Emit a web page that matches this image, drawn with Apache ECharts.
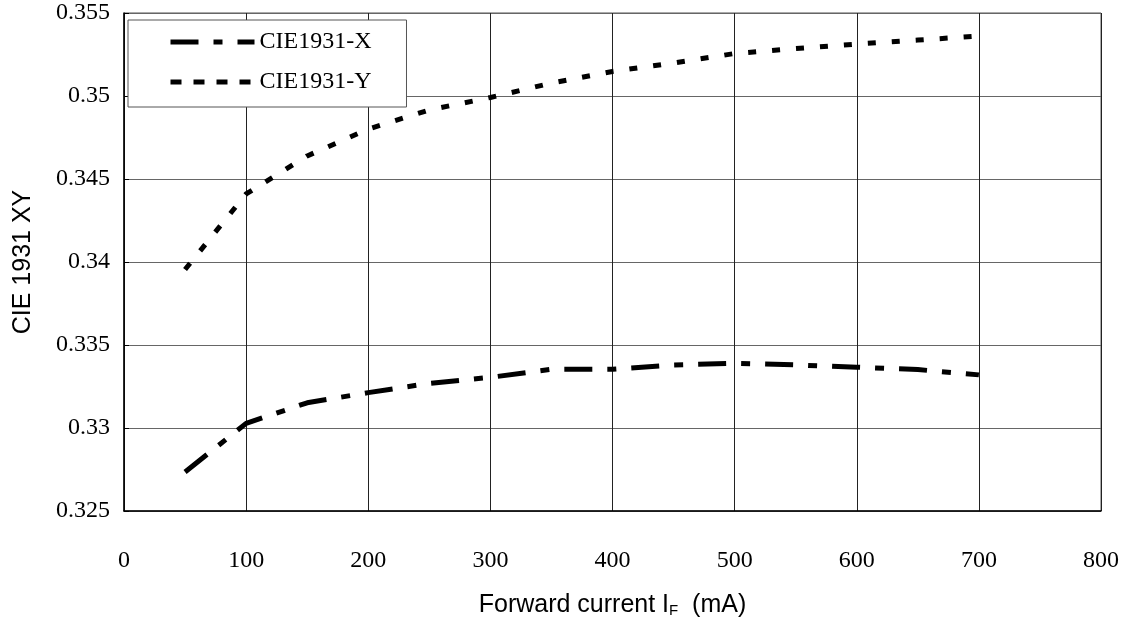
<!DOCTYPE html>
<html>
<head>
<meta charset="utf-8">
<script src="https://cdn.jsdelivr.net/npm/echarts@6/dist/echarts.min.js"></script>
<style>
html,body{margin:0;padding:0;background:#fff;}
#chart{width:1129px;height:624px;}
</style>
</head>
<body>
<div id="chart"></div>
<script>
// Forward current (mA)
const currents = [50, 100, 150, 200, 250, 300, 350, 400, 450, 500, 550, 600, 650, 700];
// CIE1931 x coordinate
const cieX = [0.32735, 0.33028, 0.33152, 0.33213, 0.33269, 0.33305, 0.33354, 0.33354, 0.3338, 0.3339, 0.3338, 0.33366, 0.33352, 0.3332];
// CIE1931 y coordinate
const cieY = [0.33955, 0.3441, 0.34639, 0.34801, 0.34916, 0.34991, 0.35078, 0.35148, 0.35199, 0.35256, 0.35286, 0.35313, 0.35337, 0.35361];
const seriesNames = ['CIE1931-X', 'CIE1931-Y'];
const xTicks = {min: 0, max: 800, interval: 100};
const yTicks = {min: 0.325, max: 0.355, interval: 0.005};

const serif = '"Liberation Serif", "DejaVu Serif", serif';
const sans = '"Liberation Sans", Arial, sans-serif';

const chart = echarts.init(document.getElementById('chart'));
chart.setOption({
  animation: false,
  backgroundColor: '#fff',
  grid: {left: 124, right: 28, top: 13, bottom: 113, show: true, borderColor: '#555', borderWidth: 1},
  legend: {
    orient: 'vertical',
    left: 128, top: 20,
    padding: [10, 35, 13, 40],
    itemGap: 16,
    itemWidth: 84,
    itemHeight: 24,
    backgroundColor: '#fff',
    borderColor: '#555',
    borderWidth: 1,
    borderRadius: 0,
    itemStyle: {color: 'rgba(0,0,0,0)', borderWidth: 0, opacity: 0},
    lineStyle: {width: 5, cap: 'butt'},
    textStyle: {fontFamily: serif, fontSize: 24, color: '#000', padding: [0,0,0,0]},
    data: [
      {name: seriesNames[0]},
      {name: seriesNames[1], lineStyle: {type: [11, 12], width: 5, cap: 'butt'}}
    ]
  },
  xAxis: {
    type: 'value',
    min: xTicks.min, max: xTicks.max, interval: xTicks.interval,
    name: 'Forward current I{sub|F}  (mA)',
    nameLocation: 'middle',
    nameGap: 82,
    nameTextStyle: {fontFamily: sans, fontSize: 25, color: '#000',
      rich: {sub: {fontFamily: sans, fontSize: 15, color: '#000', verticalAlign: 'bottom'}}},
    axisLine: {show: true, lineStyle: {color: '#000', width: 1.5}},
    axisTick: {show: false},
    axisLabel: {fontFamily: serif, fontSize: 24, color: '#000', margin: 38},
    splitLine: {show: true, lineStyle: {color: '#222', width: 1}}
  },
  yAxis: {
    type: 'value',
    min: yTicks.min, max: yTicks.max, interval: yTicks.interval,
    name: 'CIE 1931 XY',
    nameLocation: 'middle',
    nameGap: 88,
    nameTextStyle: {fontFamily: sans, fontSize: 25, color: '#000'},
    axisLine: {show: true, lineStyle: {color: '#000', width: 1.5}},
    axisTick: {show: true, inside: true, length: 5, lineStyle: {color: '#000'}},
    axisLabel: {fontFamily: serif, fontSize: 24, color: '#000', margin: 14,
      formatter: v => String(+v.toFixed(3))},
    splitLine: {show: true, lineStyle: {color: '#666', width: 1}}
  },
  series: [
    {
      name: seriesNames[0],
      type: 'line',
      data: currents.map((c, i) => [c, cieX[i]]),
      symbol: 'none',
      color: '#000',
      lineStyle: {color: '#000', width: 5, type: [28, 15, 9, 15], cap: 'butt'}
    },
    {
      name: seriesNames[1],
      type: 'line',
      data: currents.map((c, i) => [c, cieY[i]]),
      symbol: 'none',
      color: '#000',
      lineStyle: {color: '#000', width: 5, type: [8, 16], cap: 'butt'}
    }
  ]
});
</script>
</body>
</html>
